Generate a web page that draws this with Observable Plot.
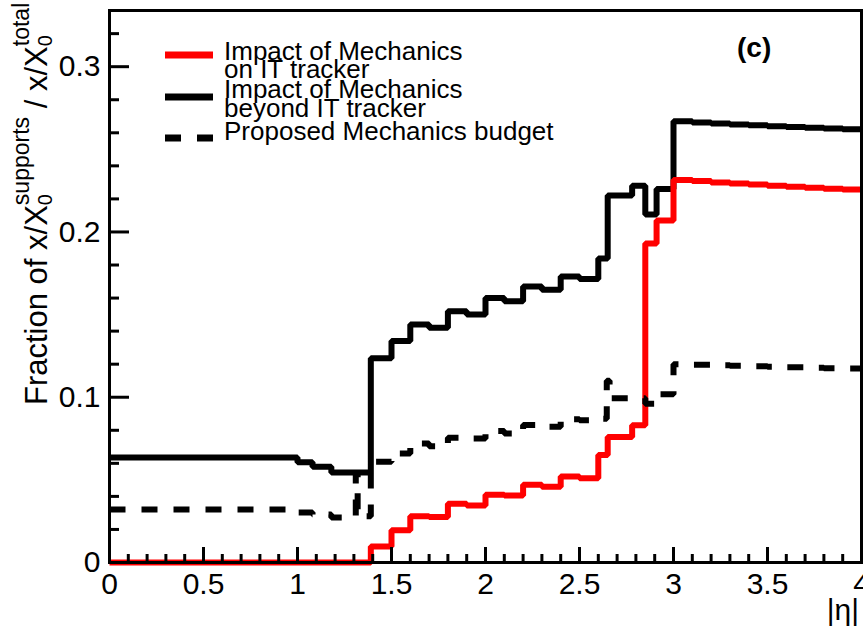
<!DOCTYPE html>
<html><head><meta charset="utf-8">
<script src="https://cdn.jsdelivr.net/npm/d3@7"></script>
<script src="https://cdn.jsdelivr.net/npm/@observablehq/plot@0.6"></script>
<style>
body{margin:0;background:#fff;}
#chart{width:863px;height:629px;}
</style></head><body><div id="chart"></div>
<script>
// ---- data ----
const onITEdges  = [0, 1.39, 1.5, 1.6, 1.7, 1.8, 1.9, 2.0, 2.1, 2.2, 2.3, 2.4, 2.5, 2.6, 2.65, 2.78, 2.85, 2.91, 3.0, 3.1, 3.2, 3.3, 3.4, 3.5, 3.6, 3.7, 3.8, 3.9];
const onITValues = [0, 0.0097, 0.0195, 0.028, 0.0275, 0.0355, 0.0345, 0.041, 0.0405, 0.047, 0.0458, 0.052, 0.051, 0.065, 0.076, 0.083, 0.193, 0.207, 0.2315, 0.2308, 0.2300, 0.2293, 0.2287, 0.2280, 0.2274, 0.2268, 0.2262, 0.2257];

const beyondEdges  = [0, 1.0, 1.08, 1.18, 1.39, 1.5, 1.6, 1.7, 1.8, 1.9, 2.0, 2.1, 2.2, 2.3, 2.4, 2.5, 2.6, 2.65, 2.78, 2.85, 2.91, 3.0, 3.1, 3.2, 3.3, 3.4, 3.5, 3.6, 3.7, 3.8, 3.9];
const beyondValues = [0.0636, 0.0606, 0.058, 0.0545, 0.1236, 0.134, 0.144, 0.142, 0.152, 0.150, 0.160, 0.158, 0.167, 0.165, 0.173, 0.1715, 0.184, 0.222, 0.228, 0.2105, 0.226, 0.2670, 0.2662, 0.2656, 0.2650, 0.2645, 0.2640, 0.2635, 0.2630, 0.2626, 0.2622];

const budgetEdges  = [0, 1.0, 1.08, 1.18, 1.31, 1.32, 1.39, 1.5, 1.6, 1.7, 1.8, 1.9, 2.0, 2.1, 2.2, 2.3, 2.4, 2.5, 2.6, 2.645, 2.66, 2.85, 2.91, 3.0, 3.1, 3.2, 3.3, 3.4, 3.5, 3.6, 3.7, 3.8, 3.9];
const budgetValues = [0.032, 0.0303, 0.029, 0.0273, 0.054, 0.028, 0.061, 0.066, 0.072, 0.0703, 0.0755, 0.075, 0.0795, 0.078, 0.0832, 0.0822, 0.0867, 0.086, 0.087, 0.11, 0.0994, 0.096, 0.1018, 0.1200, 0.1197, 0.1193, 0.1190, 0.1187, 0.1184, 0.1181, 0.1178, 0.1176, 0.1174];

const xMax = 4;
const xTicks = [0, 0.5, 1, 1.5, 2, 2.5, 3, 3.5, 4];
const xTickLabels = ["0", "0.5", "1", "1.5", "2", "2.5", "3", "3.5", "4"];
const yTicks = [0, 0.1, 0.2, 0.3];
const yTickLabels = ["0", "0.1", "0.2", "0.3"];
const legendLabels = [["Impact of Mechanics", "on IT tracker"], ["Impact of Mechanics", "beyond IT tracker"], ["Proposed Mechanics budget"]];
const panelLabel = "(c)";
const xTitle = "|\u03b7|";

// ---- build step tables ----
function steps(edges, values) {
  const pts = edges.map((e, i) => ({x: e, y: values[i]}));
  pts.push({x: xMax, y: values[values.length - 1]});
  return pts;
}
const onIT = steps(onITEdges, onITValues);
const beyond = steps(beyondEdges, beyondValues);
const budget = steps(budgetEdges, budgetValues);

const W = 863, H = 629, mL = 109, mR = 2, mT = 10, mB = 67;
const pW = W - mL - mR, pH = H - mT - mB;
const xMinor = d3.range(0, 4.0001, 0.1).filter(v => Math.abs(v * 2 - Math.round(v * 2)) > 1e-6);
const yMinor = d3.range(0, 0.334, 0.02).filter(v => Math.abs(v * 10 - Math.round(v * 10)) > 1e-6);
const font = "'Liberation Sans', Arial, Helvetica, sans-serif";
const lineOpts = {x: "x", y: "y", curve: "step-after", strokeWidth: 6, strokeLinejoin: "miter", strokeLinecap: "butt"};

const plot = Plot.plot({
  width: W, height: H,
  marginLeft: mL, marginRight: mR, marginTop: mT, marginBottom: mB,
  x: {domain: [0, xMax], label: null},
  y: {domain: [0, 0.334], label: null},
  style: {fontFamily: font, background: "white", color: "black", overflow: "visible"},
  marks: [
    Plot.line(beyond, {...lineOpts, stroke: "black"}),
    Plot.line(onIT, {...lineOpts, stroke: "#ff0000"}),
    Plot.line(budget, {...lineOpts, stroke: "black", strokeDasharray: "16,16"}),
    Plot.tickX(xMinor, {x: d => d, insetTop: pH - 8, strokeWidth: 3}),
    Plot.tickX(xTicks, {x: d => d, insetTop: pH - 15, strokeWidth: 3}),
    Plot.tickY(yMinor, {y: d => d, insetRight: pW - 10, strokeWidth: 3}),
    Plot.tickY(yTicks, {y: d => d, insetRight: pW - 20, strokeWidth: 3}),
    Plot.frame({strokeWidth: 3}),
    Plot.axisX(xTicks, {tickSize: 0, tickPadding: 10, fontSize: 30, label: null,
      tickFormat: d => xTickLabels[xTicks.indexOf(d)]}),
    Plot.axisY(yTicks, {tickSize: 0, tickPadding: 9, fontSize: 30, label: null,
      tickFormat: d => yTickLabels[yTicks.indexOf(d)]})
  ]
});
document.getElementById("chart").appendChild(plot);

// ---- texts: axis titles, legend, panel label ----
const svg = d3.select(plot);
const g = svg.append("g").attr("font-family", font).attr("fill", "black").attr("text-anchor", "start");

// y title with stacked sub/superscripts
const yt = g.append("text").attr("transform", "translate(47,405) rotate(-90)").attr("font-size", 31).attr("text-anchor", "start");
yt.append("tspan").text("Fraction of x/X");
yt.append("tspan").attr("font-size", 20).attr("dy", 5).text("0");
yt.append("tspan").attr("font-size", 23).attr("dx", -11.1).attr("dy", -23).text("supports");
yt.append("tspan").attr("dy", 18).text(" / x/X");
yt.append("tspan").attr("font-size", 20).attr("dy", 5).text("0");
yt.append("tspan").attr("font-size", 23).attr("dx", -11.1).attr("dy", -23).text("total");

// x title
g.append("text").attr("x", 859).attr("y", 620).attr("text-anchor", "end").attr("font-size", 30).text(xTitle);

// panel label
g.append("text").attr("x", 737).attr("y", 57).attr("font-size", 28).attr("font-weight", "bold").text(panelLabel);

// legend
const legendY = [55, 97, 138];
const legendBase = [[60, 78], [98, 117], [140]];
const legendStyle = [{stroke: "#ff0000"}, {stroke: "black"}, {stroke: "black", dash: "16,16"}];
legendLabels.forEach((lines, i) => {
  g.append("line").attr("x1", 165).attr("x2", 213).attr("y1", legendY[i]).attr("y2", legendY[i])
    .attr("stroke", legendStyle[i].stroke).attr("stroke-width", 7)
    .attr("stroke-dasharray", legendStyle[i].dash || null);
  lines.forEach((t, j) => {
    g.append("text").attr("x", 224).attr("y", legendBase[i][j]).attr("font-size", 26).text(t);
  });
});
</script></body></html>
